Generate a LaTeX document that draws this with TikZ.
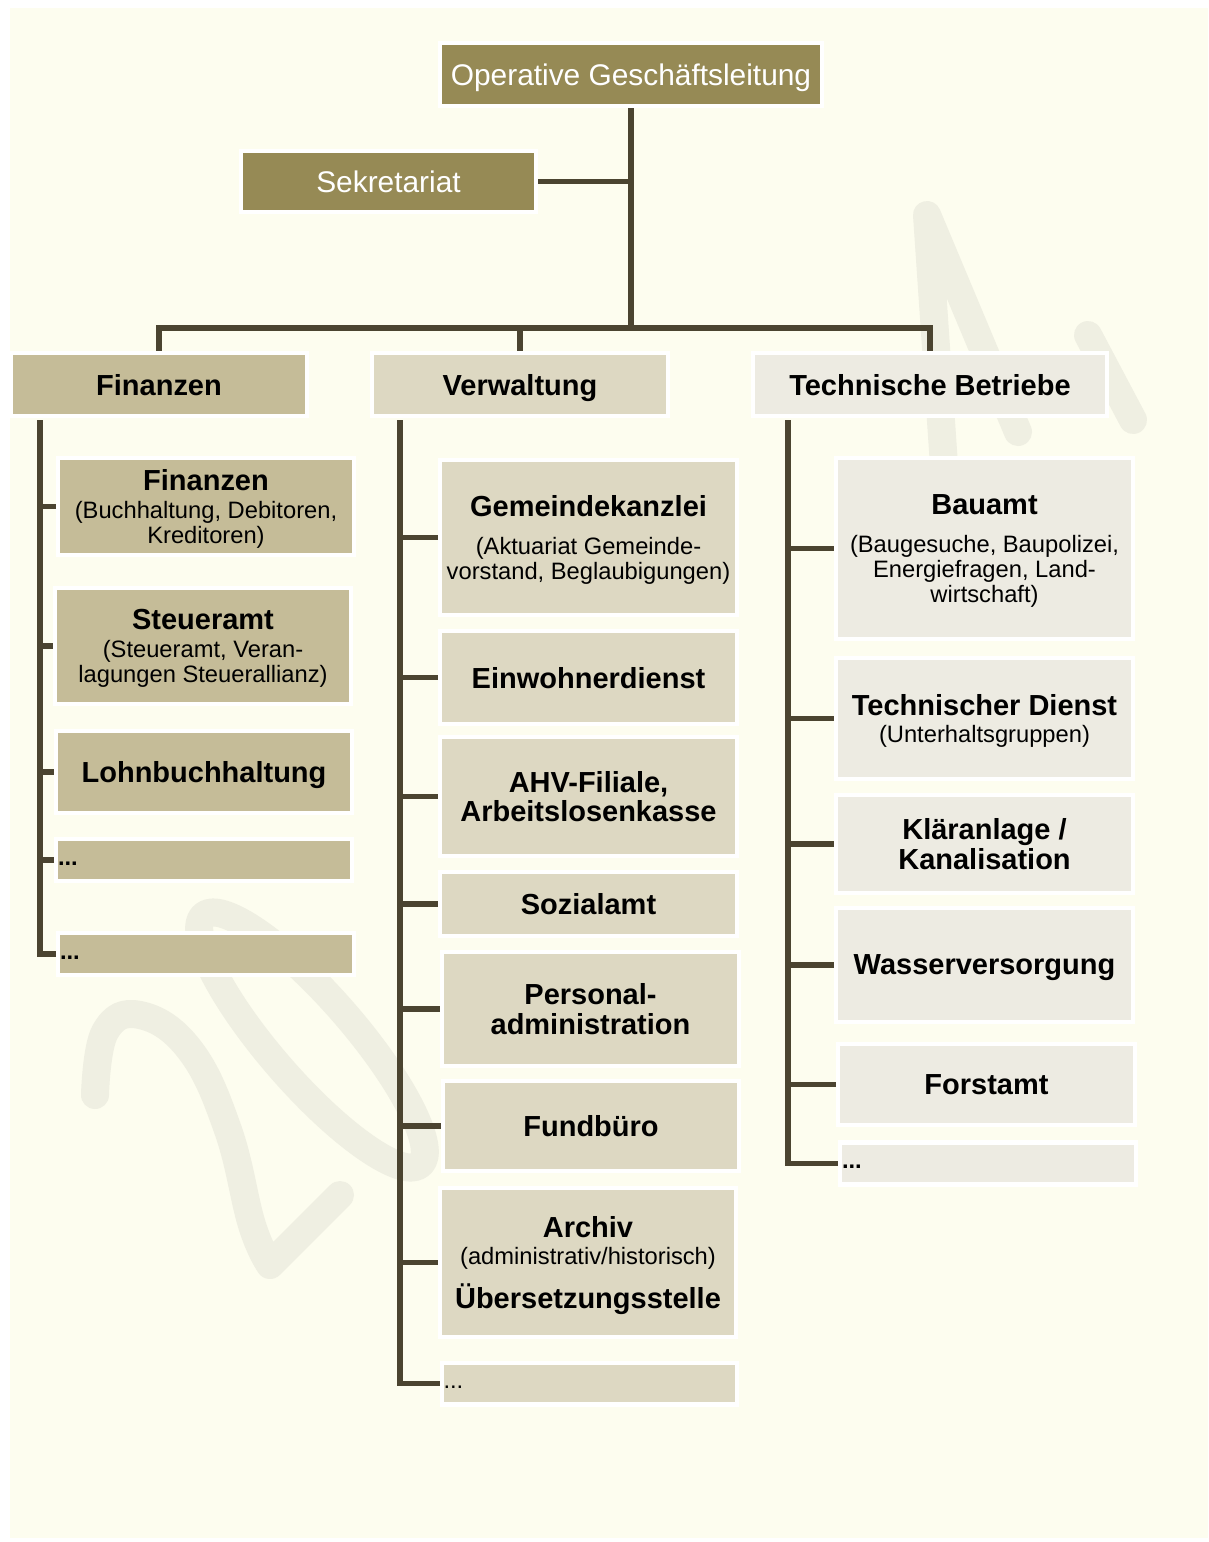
\documentclass[tikz,border=0pt]{standalone}
\usepackage{fontspec}
\setmainfont{Liberation Sans}
\usetikzlibrary{positioning, calc, backgrounds}

\definecolor{bgcream}{HTML}{FDFDEF}
\definecolor{wmark}{HTML}{EFEFE2}
\definecolor{olive}{HTML}{968A55}
\definecolor{finc}{HTML}{C5BC98}
\definecolor{verc}{HTML}{DDD8C2}
\definecolor{techc}{HTML}{EDEBE2}
\definecolor{linec}{HTML}{4B4430}

\newcommand{\titl}[1]{{\fontsize{16.5}{17}\selectfont\bfseries #1}}

\tikzset{
  box/.style={draw=white, line width=2.3pt, inner sep=0pt, align=center, text depth=0pt, font=\fontsize{13.5}{14.2}\selectfont},
  boldbox/.style={box, font=\fontsize{16.5}{17}\selectfont\bfseries},
  topbox/.style={box, fill=olive, text=white, font=\fontsize{17}{18}\selectfont},
  dotbox/.style={box, align=left, text width=5.84cm, inner xsep=0.04cm, minimum height=0.84cm, text height=6pt},
  size/.style 2 args={minimum width=#1*0.02cm, minimum height=#2*0.02cm},
  conn/.style={draw=linec, line width=2.9pt},
  wm/.style={draw=wmark, line width=0.56cm, line cap=round, line join=round},
}

\begin{document}
\begin{tikzpicture}[x=0.02cm, y=-0.02cm]
\useasboundingbox (0,0) rectangle (1208,1542);
\begin{scope}[on background layer]
  \fill[white] (0,0) rectangle (1208,1542);
  \fill[bgcream] (10,8) rectangle (1208,1538);
  % watermark
  \draw[wm] plot[smooth, tension=0.7] coordinates {(95,1095) (105,1032) (140,1015) (190,1050) (228,1130) (252,1225) (270,1265)} -- (340,1195);
  \draw[wm, rotate around={-49:(312,1040)}] (312,1040) ellipse [x radius=165, y radius=42];
  \draw[wm] (945,480) -- (927,215) -- (1018,432);
  \draw[wm] (1088,335) -- (1133,420);
\end{scope}

% top
\node[topbox, size={382}{63}] (ceo) at (631,74.5) {Operative Geschäftsleitung};
\node[topbox, size={295}{61}] (sek) at (388.5,181.5) {Sekretariat};

% departments
\node[boldbox, fill=finc, size={296}{63}] (fin) at (159,384.5) {Finanzen};
\node[boldbox, fill=verc, size={296}{63}] (ver) at (520,384.5) {Verwaltung};
\node[boldbox, fill=techc, size={354}{63}] (tech) at (930,384.5) {Technische Betriebe};

% Finanzen
\node[box, fill=finc, size={296}{97}] (fin1) at (206,506.5) {\titl{Finanzen}\\[1.7pt](Buchhaltung, Debitoren,\\Kreditoren)};
\node[box, fill=finc, size={296}{116}] (fin2) at (203,646) {\titl{Steueramt}\\[1.7pt](Steueramt, Veran-\\lagungen Steuerallianz)};
\node[boldbox, fill=finc, size={296}{82}] (fin3) at (204,772) {Lohnbuchhaltung};
\node[dotbox, fill=finc] (fin4) at (204,860) {\textbf{...}};
\node[dotbox, fill=finc] (fin5) at (206,954) {\textbf{...}};

% Verwaltung
\node[box, fill=verc, size={297}{155}] (ver1) at (588.5,537.5) {\titl{Gemeindekanzlei}\\[7.5pt](Aktuariat Gemeinde-\\vorstand, Beglaubigungen)};
\node[boldbox, fill=verc, size={297}{93}] (ver2) at (588.5,677.5) {Einwohnerdienst};
\node[boldbox, fill=verc, size={297}{119}] (ver3) at (588.5,796.5) {AHV-Filiale,\\Arbeitslosenkasse};
\node[boldbox, fill=verc, size={297}{64}] (ver4) at (588.5,904) {Sozialamt};
\node[boldbox, fill=verc, size={297}{114}] (ver5) at (590.5,1009) {Personal-\\administration};
\node[boldbox, fill=verc, size={296}{90}] (ver6) at (591,1126) {Fundbüro};
\node[box, fill=verc, size={296}{149}] (ver7) at (588,1262.5) {\titl{Archiv}\\[1.2pt](administrativ/historisch)\\[7pt]\titl{Übersetzungsstelle}};
\node[dotbox, fill=verc] (ver8) at (589.5,1383.5) {...};

% Technische Betriebe
\node[box, fill=techc, size={297}{181}] (tech1) at (984.5,548.5) {\titl{Bauamt}\\[7.5pt](Baugesuche, Baupolizei,\\Energiefragen, Land-\\wirtschaft)};
\node[box, fill=techc, size={297}{121}] (tech2) at (984.5,718.5) {\titl{Technischer Dienst}\\[1.7pt](Unterhaltsgruppen)};
\node[boldbox, fill=techc, size={297}{98}] (tech3) at (984.5,844) {Kläranlage /\\Kanalisation};
\node[boldbox, fill=techc, size={297}{114}] (tech4) at (984.5,965) {Wasserversorgung};
\node[boldbox, fill=techc, size={297}{81}] (tech5) at (986.5,1084.5) {Forstamt};
\node[dotbox, fill=techc] (tech6) at (988,1163.5) {\textbf{...}};

% connectors
\begin{scope}[on background layer]
  \coordinate (bar) at (631,328);
  \draw[conn] (ceo.south) -- (bar);
  \draw[conn] (sek.east) -- (sek.east -| bar);
  \draw[conn] (fin.north) |- (bar) -| (tech.north);
  \draw[conn] (ver.north) -- (ver.north |- bar);

  \coordinate (finspine) at ($(fin.south west)+(31,2)$);
  \coordinate (verspine) at ($(ver.south west)+(30,2)$);
  \coordinate (techspine) at ($(tech.south west)+(37,2)$);

  \draw[conn] (finspine) |- (fin5.west);
  \foreach \n in {1,...,4}
    \draw[conn] (fin\n.west) -- (fin\n.west -| finspine);
  \draw[conn] (verspine) |- (ver8.west);
  \foreach \n in {1,...,7}
    \draw[conn] (ver\n.west) -- (ver\n.west -| verspine);
  \draw[conn] (techspine) |- (tech6.west);
  \foreach \n in {1,...,5}
    \draw[conn] (tech\n.west) -- (tech\n.west -| techspine);
\end{scope}
\end{tikzpicture}
\end{document}
